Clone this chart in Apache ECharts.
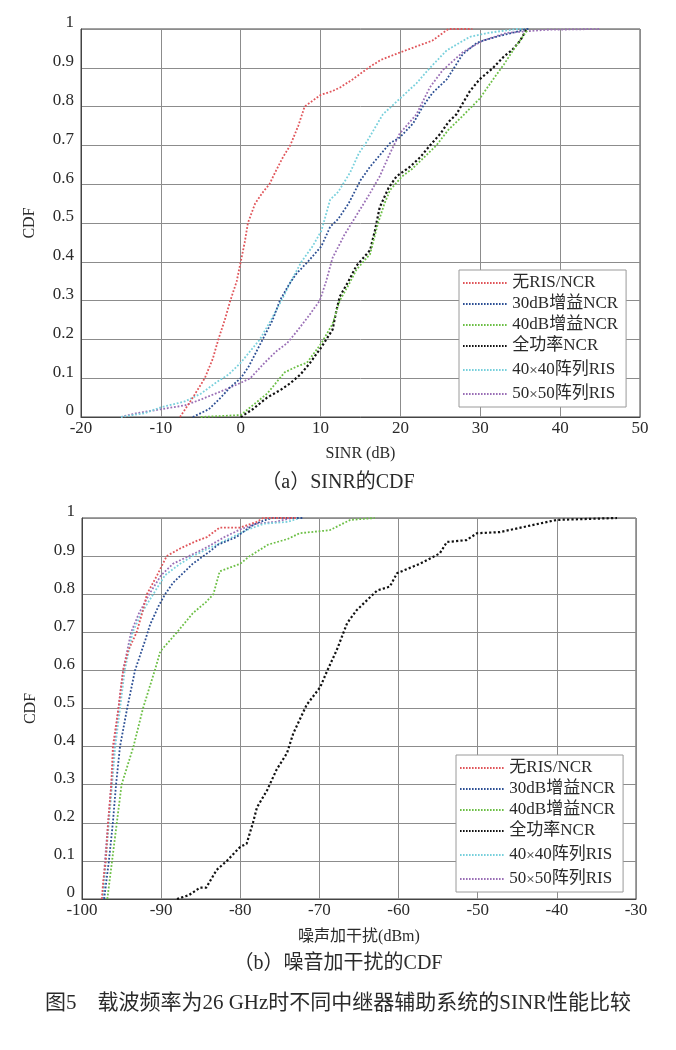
<!DOCTYPE html>
<html><head><meta charset="utf-8">
<script src="https://cdn.jsdelivr.net/npm/echarts@6/dist/echarts.min.js"></script>
<style>html,body{margin:0;padding:0;background:#fff}#c{width:676px;height:1050px}</style>
</head><body><div id="c"></div>
<script>
// ---- data ----
const seriesNames = ['无RIS/NCR','30dB增益NCR','40dB增益NCR','全功率NCR','40×40阵列RIS','50×50阵列RIS'];
const seriesColors = ['#e0555a','#2c4f94','#6cbf45','#111111','#78d0dc','#9a6fb6'];
const yTickLabels = ['0','0.1','0.2','0.3','0.4','0.5','0.6','0.7','0.8','0.9','1'];
const xTickLabelsA = ['-20','-10','0','10','20','30','40','50'];
const xTickLabelsB = ['-100','-90','-80','-70','-60','-50','-40','-30'];

// (a) SINR CDF  [SINR dB, CDF]
const sinrNone = [[-7.6,0],[-6,0.05],[-4.5,0.1],[-3.5,0.15],[-2.8,0.2],[-2,0.25],[-1.3,0.3],[-0.5,0.35],[0,0.4],[0.5,0.45],[0.9,0.5],[1.8,0.55],[2.8,0.58],[3.6,0.6],[4.3,0.63],[5.3,0.67],[6.2,0.7],[7.2,0.75],[8,0.8],[9,0.815],[10,0.83],[11.5,0.84],[12.5,0.85],[14,0.87],[16,0.9],[17.5,0.92],[20,0.94],[22,0.955],[24,0.97],[25,0.985],[26,1],[29,1]];
const sinr30dB = [[-6,0],[-4,0.02],[-2.5,0.05],[-1.3,0.077],[0,0.1],[1,0.13],[2,0.17],[3,0.21],[4,0.25],[4.9,0.3],[6,0.34],[7,0.37],[8.4,0.4],[10.1,0.44],[11.2,0.49],[12.2,0.51],[13.5,0.55],[15,0.61],[16.2,0.645],[18.7,0.706],[19.9,0.72],[21.6,0.757],[22.8,0.8],[24,0.835],[25.8,0.87],[27.8,0.935],[29.6,0.965],[32,0.98],[34,0.99],[35.8,1],[36.2,1]];
const sinr40dB = [[-5,0],[0,0.005],[1.5,0.03],[3.3,0.06],[4.5,0.09],[5.5,0.115],[7,0.13],[8.3,0.14],[10.1,0.19],[11.5,0.24],[12.4,0.3],[13.5,0.34],[14.5,0.38],[16.2,0.42],[17.2,0.5],[18,0.55],[18.7,0.585],[20.2,0.62],[21.5,0.64],[23,0.67],[24.5,0.7],[26,0.74],[27.5,0.77],[29.9,0.82],[31.6,0.87],[33,0.91],[34.6,0.96],[36,1]];
const sinrFull = [[0,0],[1.5,0.02],[3.3,0.05],[5,0.07],[6.2,0.087],[7.5,0.11],[8.7,0.14],[10.1,0.18],[11.5,0.225],[12,0.276],[12.4,0.31],[13.5,0.35],[14.5,0.39],[16.2,0.43],[16.8,0.48],[17.4,0.54],[18.5,0.59],[19.5,0.62],[21.2,0.645],[22.5,0.67],[23.7,0.7],[25,0.73],[26,0.76],[27,0.78],[28.7,0.84],[29.9,0.87],[31.6,0.9],[33,0.93],[34,0.946],[35,0.97],[35.8,1]];
const sinrRis40 = [[-15,0],[-12,0.01],[-10,0.025],[-7,0.04],[-5,0.06],[-3,0.09],[-1.5,0.11],[0,0.14],[1.2,0.17],[2.4,0.2],[3.8,0.25],[5.1,0.3],[6.3,0.35],[7.6,0.4],[9,0.44],[10.1,0.48],[11.2,0.56],[12.2,0.58],[13.7,0.63],[14.8,0.68],[15.8,0.71],[17.8,0.78],[19.9,0.82],[22,0.86],[23.7,0.9],[25.8,0.945],[28.7,0.98],[31,0.99],[34.5,1],[35.5,1]];
const sinrRis50 = [[-15,0],[-13,0.01],[-10,0.02],[-7,0.03],[-5,0.045],[-2,0.07],[0,0.088],[1.2,0.1],[3,0.14],[4.5,0.17],[5.8,0.19],[7,0.22],[8.5,0.26],[9.9,0.3],[10.7,0.35],[11.5,0.41],[13,0.47],[14.5,0.52],[16,0.57],[17.4,0.62],[18.7,0.68],[19.9,0.73],[22,0.78],[23.7,0.85],[25.3,0.894],[27.8,0.94],[30.3,0.97],[33.3,0.99],[38.3,0.998],[45,1]];

// (b) noise + interference CDF  [dBm, CDF]
const niNone = [[-97.5,0],[-97.3,0.05],[-97,0.1],[-96.7,0.2],[-96.3,0.3],[-96.1,0.4],[-95.4,0.5],[-94.8,0.6],[-94.2,0.65],[-93.1,0.7],[-92.4,0.75],[-91.8,0.8],[-90.5,0.85],[-89.3,0.9],[-87.6,0.92],[-85.5,0.94],[-84.2,0.95],[-82.6,0.975],[-80,0.975],[-77.9,0.99],[-77.1,1],[-73,1]];
const ni30dB = [[-97.2,0],[-96.6,0.1],[-96.1,0.2],[-95.7,0.3],[-95.2,0.4],[-94.3,0.5],[-93.3,0.6],[-92,0.68],[-91.4,0.72],[-90.3,0.77],[-89.5,0.8],[-88.5,0.83],[-87,0.86],[-86,0.88],[-84,0.91],[-82.8,0.93],[-80.5,0.95],[-79.2,0.97],[-78.5,0.98],[-77.5,0.99],[-76,1],[-72,1]];
const ni40dB = [[-96.8,0],[-96.2,0.1],[-95.6,0.2],[-95,0.3],[-93.5,0.4],[-92.3,0.5],[-90.8,0.6],[-90.1,0.65],[-88,0.7],[-86,0.75],[-84.3,0.78],[-83.4,0.8],[-82.6,0.86],[-80,0.88],[-78.8,0.9],[-76.5,0.93],[-74,0.945],[-72.5,0.96],[-68.7,0.968],[-66.1,0.995],[-63,1]];
const niFull = [[-88,0],[-86.5,0.01],[-85.1,0.03],[-84.3,0.03],[-83,0.076],[-81.7,0.1],[-80,0.137],[-79.2,0.145],[-78.4,0.2],[-77.9,0.24],[-76.6,0.286],[-75.4,0.34],[-74.1,0.383],[-73.3,0.435],[-71.6,0.51],[-69.9,0.556],[-69,0.6],[-67.8,0.654],[-66.5,0.724],[-65.3,0.758],[-62.7,0.81],[-61.1,0.82],[-60.2,0.855],[-57.3,0.88],[-54.8,0.907],[-53.9,0.937],[-51.4,0.942],[-50.1,0.96],[-47.2,0.963],[-43.4,0.98],[-40,0.995],[-32.4,1]];
const niRis40 = [[-97.3,0],[-97,0.1],[-96.6,0.2],[-96.2,0.3],[-95.8,0.4],[-95.2,0.5],[-94.6,0.6],[-93.6,0.7],[-92.5,0.75],[-91,0.8],[-89.5,0.85],[-87.6,0.88],[-86,0.9],[-84,0.92],[-81,0.95],[-79,0.97],[-77,0.985],[-74,0.99],[-72.5,1]];
const niRis50 = [[-97.4,0],[-97.1,0.1],[-96.7,0.2],[-96.3,0.3],[-95.9,0.4],[-95.4,0.5],[-94.8,0.6],[-93.8,0.7],[-92.8,0.75],[-91.5,0.8],[-90,0.85],[-88.5,0.88],[-86.5,0.9],[-84.5,0.92],[-82,0.95],[-80,0.97],[-78,0.985],[-75.5,0.99],[-73.5,1]];

const dataA = [sinrNone, sinr30dB, sinr40dB, sinrFull, sinrRis40, sinrRis50];
const dataB = [niNone, ni30dB, ni40dB, niFull, niRis40, niRis50];

// ---- chart ----
const FONT = "'Liberation Serif','Noto Sans CJK SC',serif";
const TXT = '#2a2a2a';
const chart = echarts.init(document.getElementById('c'), null, {renderer:'canvas'});

// dotted legend sample (15 small squares)
let dotPath = 'path://';
for (let i = 0; i < 15; i++) dotPath += 'M' + (i*3) + ',0h1.6v2h-1.6z';

function xAxisCfg(gi, min, max, labels, name, gap){
  return {
    gridIndex: gi, type:'value', min, max, interval:10,
    name, nameLocation:'middle', nameGap:gap,
    nameTextStyle:{fontFamily:FONT, fontSize:16, color:TXT},
    axisLine:{show:true, onZero:false, lineStyle:{color:'#444', width:1}},
    axisTick:{show:false},
    axisLabel:{fontFamily:FONT, fontSize:17, color:TXT, margin:3,
      formatter:(v,i)=>labels[i]},
    splitLine:{show:true, lineStyle:{color:'#8c8c8c', width:1}}
  };
}
function yAxisCfg(gi){
  return {
    gridIndex: gi, type:'value', min:0, max:1, interval:0.1,
    name:'CDF', nameLocation:'middle', nameGap:43, nameRotate:90,
    nameTextStyle:{fontFamily:FONT, fontSize:16, color:TXT},
    axisLine:{show:true, onZero:false, lineStyle:{color:'#444', width:1}},
    axisTick:{show:false},
    axisLabel:{fontFamily:FONT, fontSize:17, color:TXT, margin:7, verticalAlign:'bottom',
      lineHeight:12, formatter:(v,i)=>yTickLabels[i]},
    splitLine:{show:true, lineStyle:{color:'#8c8c8c', width:1}}
  };
}

const series = [];
[dataA, dataB].forEach((set, gi)=>{
  set.forEach((d, k)=>{
    series.push({
      name: seriesNames[k], type:'line', xAxisIndex:gi, yAxisIndex:gi,
      data:d, showSymbol:false, symbol:'none', animation:false,
      lineStyle:{color:seriesColors[k], width: k===3 ? 2.2 : 1.8, type:'dotted'},
      itemStyle:{color:seriesColors[k]},
      z: 10 - k
    });
  });
});

function legendCfg(left, top){
  return {
    orient:'vertical', left, top,
    data: seriesNames,
    icon: dotPath,
    backgroundColor:'#fff', borderColor:'#9a9a9a', borderWidth:1,
    padding:[4,8,4,4], itemGap:3, itemWidth:45, itemHeight:2,
    textStyle:{fontFamily:FONT, fontSize:17, color:TXT, lineHeight:18,
      rich:{x:{fontFamily:FONT, fontSize:15, color:TXT, lineHeight:8, padding:[6,0,0,0], verticalAlign:'bottom'}}},
    formatter:(n)=>n.replace('×','{x|×}'),
    selectedMode:false
  };
}

chart.setOption({
  animation:false,
  backgroundColor:'#fff',
  grid:[
    {left:81, top:29, width:559, height:388, show:true, borderColor:'#444', borderWidth:1, backgroundColor:'transparent'},
    {left:82, top:518, width:554, height:381, show:true, borderColor:'#444', borderWidth:1, backgroundColor:'transparent'}
  ],
  xAxis:[xAxisCfg(0,-20,50,xTickLabelsA,'SINR (dB)',29), xAxisCfg(1,-100,-30,xTickLabelsB,'噪声加干扰(dBm)',30)],
  yAxis:[yAxisCfg(0), yAxisCfg(1)],
  legend:[legendCfg(459,270), legendCfg(456,755)],
  series,
  graphic:[
    {type:'text', left:'center', top:473, style:{text:'（a）SINR的CDF', font:"20px "+FONT, fill:TXT}},
    {type:'text', left:'center', top:954, style:{text:'（b）噪音加干扰的CDF', font:"20px "+FONT, fill:TXT}},
    {type:'text', left:'center', top:993, style:{text:'图5　载波频率为26 GHz时不同中继器辅助系统的SINR性能比较', font:"21px "+FONT, fill:TXT}}
  ]
});
</script></body></html>
